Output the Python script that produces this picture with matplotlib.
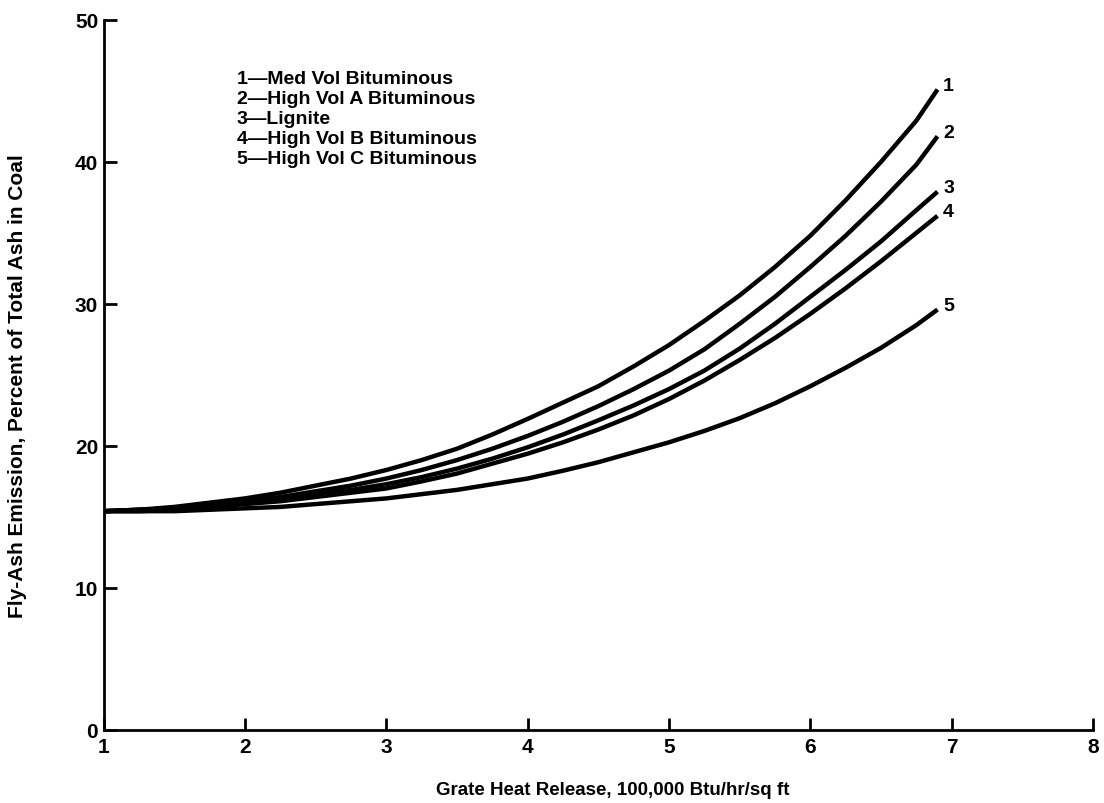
import matplotlib.pyplot as plt

plt.rcParams['font.family'] = ['Liberation Sans', 'DejaVu Sans']
plt.rcParams['font.weight'] = 'bold'

# Grate heat release, 100,000 Btu/hr/sq ft
heat = [1.0, 1.25, 1.5, 1.75, 2.0, 2.25, 2.5, 2.75, 3.0, 3.25, 3.5, 3.75,
        4.0, 4.25, 4.5, 4.75, 5.0, 5.25, 5.5, 5.75, 6.0, 6.25, 6.5, 6.75, 6.9]

# Fly-ash emission, percent of total ash in coal
med_vol = [15.4, 15.5, 15.7, 16.0, 16.3, 16.7, 17.2, 17.7, 18.3, 19.0, 19.8, 20.8,
           21.9, 23.05, 24.2, 25.6, 27.1, 28.8, 30.6, 32.6, 34.8, 37.3, 40.0, 42.9, 45.1]
high_vol_a = [15.4, 15.5, 15.6, 15.8, 16.1, 16.4, 16.8, 17.2, 17.7, 18.3, 19.0, 19.8,
              20.7, 21.7, 22.8, 24.0, 25.3, 26.8, 28.6, 30.5, 32.6, 34.8, 37.2, 39.8, 41.8]
lignite = [15.4, 15.5, 15.6, 15.8, 16.0, 16.3, 16.6, 16.9, 17.3, 17.8, 18.4, 19.1,
           19.9, 20.8, 21.8, 22.85, 24.0, 25.3, 26.85, 28.6, 30.5, 32.4, 34.4, 36.6, 37.9]
high_vol_b = [15.4, 15.4, 15.5, 15.7, 15.9, 16.1, 16.4, 16.7, 17.0, 17.5, 18.05, 18.75,
              19.45, 20.25, 21.15, 22.15, 23.3, 24.6, 26.05, 27.6, 29.3, 31.1, 33.0, 35.0, 36.2]
high_vol_c = [15.4, 15.4, 15.4, 15.5, 15.6, 15.7, 15.9, 16.1, 16.3, 16.6, 16.9, 17.3,
              17.7, 18.25, 18.85, 19.55, 20.25, 21.05, 21.95, 23.0, 24.2, 25.5, 26.9, 28.5, 29.6]

series = [med_vol, high_vol_a, lignite, high_vol_b, high_vol_c]
curve_ids = ['1', '2', '3', '4', '5']
legend_lines = ['1\u2014Med Vol Bituminous',
                '2\u2014High Vol A Bituminous',
                '3\u2014Lignite',
                '4\u2014High Vol B Bituminous',
                '5\u2014High Vol C Bituminous']

fig = plt.figure(figsize=(11.04, 8.04), dpi=100)
ax = fig.add_axes([0.094, 0.091, 0.896, 0.883])

for vals, cid in zip(series, curve_ids):
    ax.plot(heat, vals, color='black', linewidth=3.2, solid_capstyle='butt')
    ax.annotate(cid, xy=(heat[-1], vals[-1]), xytext=(4, 3),
                textcoords='offset points', ha='left', va='center',
                fontsize=14, fontweight='bold')

ax.set_xlim(1, 8)
ax.set_ylim(0, 50)
ax.set_xticks([1, 2, 3, 4, 5, 6, 7, 8])
ax.set_yticks([0, 10, 20, 30, 40, 50])

ax.spines['top'].set_visible(False)
ax.spines['right'].set_visible(False)
for s in ['left', 'bottom']:
    ax.spines[s].set_linewidth(2.0)

ax.tick_params(direction='in', length=9, width=2, labelsize=15, pad=5)
ax.tick_params(axis='y', pad=4)
for lab in ax.get_xticklabels() + ax.get_yticklabels():
    lab.set_fontweight('bold')

ax.set_xlabel('Grate Heat Release, 100,000 Btu/hr/sq ft', fontsize=13.5, fontweight='bold')
ax.set_ylabel('Fly-Ash Emission, Percent of Total Ash in Coal', fontsize=15, fontweight='bold')
ax.xaxis.set_label_coords(0.515, -0.072)
ax.yaxis.set_label_coords(-0.078, 0.485)

# legend block, top left
for i, txt in enumerate(legend_lines):
    fig.text(237 / 1104, 1 - (80 + 20 * i) / 804, txt, ha='left', va='center',
             fontsize=14, fontweight='bold')

fig.savefig('out.png', dpi=100)
